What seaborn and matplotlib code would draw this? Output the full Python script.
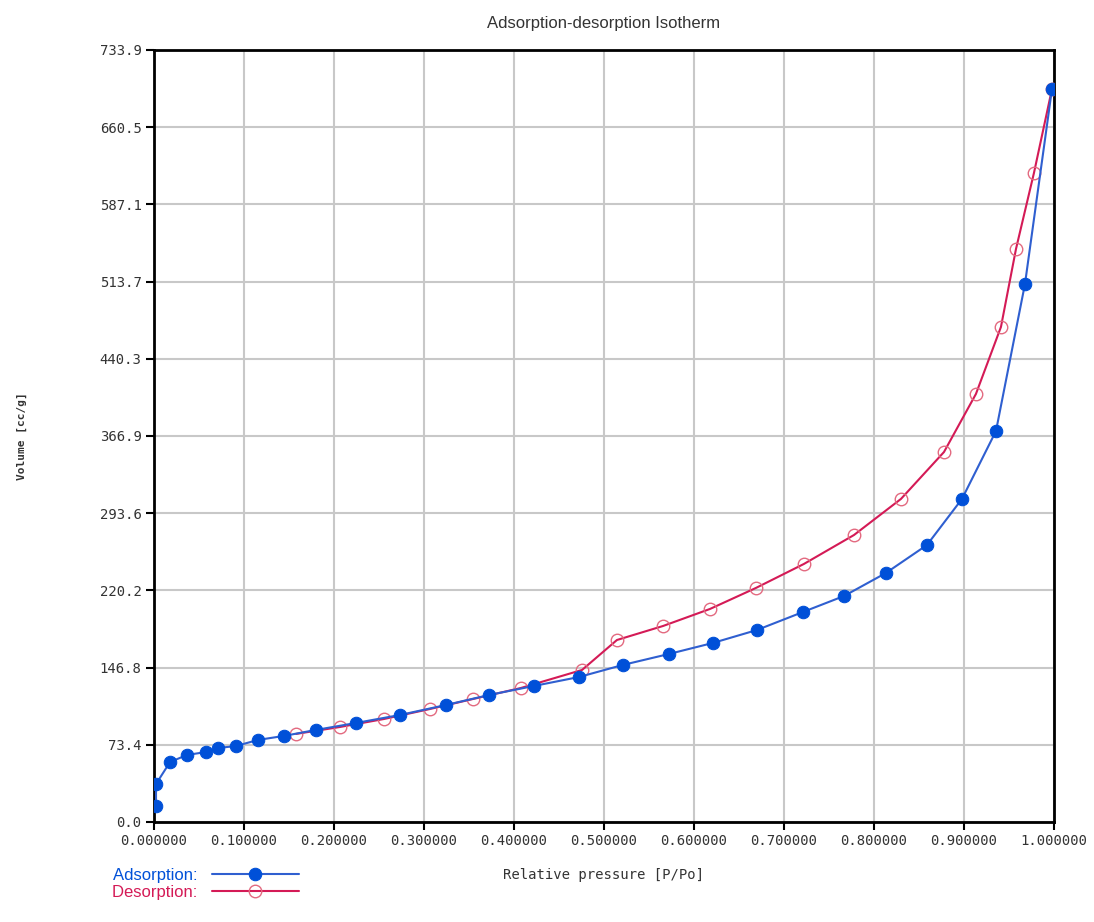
import pandas as pd
import matplotlib.pyplot as plt
import seaborn as sns

# adsorption branch (filled blue)
ads_p = [0.0022, 0.0022, 0.0178, 0.0367, 0.0578, 0.0711, 0.0911, 0.1156, 0.1444,
         0.1800, 0.2244, 0.2733, 0.3244, 0.3722, 0.4222, 0.4722, 0.5211, 0.5722,
         0.6211, 0.6700, 0.7211, 0.7667, 0.8133, 0.8589, 0.8978, 0.9356, 0.9678, 0.9978]
ads_v = [15.2, 36.1, 57.0, 63.7, 66.5, 70.3, 72.2, 78.0, 81.8,
         87.5, 94.1, 101.7, 111.2, 120.7, 129.3, 137.8, 149.3, 159.7,
         170.2, 182.5, 199.6, 214.8, 236.7, 263.3, 307.1, 371.7, 511.5, 696.8]

# desorption branch (open red)
des_p = [0.9978, 0.9778, 0.9578, 0.9411, 0.9133, 0.8778, 0.8300, 0.7778, 0.7222,
         0.6689, 0.6178, 0.5656, 0.5144, 0.4756, 0.4078, 0.3544, 0.3067, 0.2556,
         0.2067, 0.1578]
des_v = [696.8, 617.1, 544.7, 470.6, 406.9, 351.7, 307.1, 272.8, 245.3,
         222.5, 202.5, 186.3, 173.0, 144.5, 127.4, 116.9, 107.4, 97.9,
         90.3, 83.7]

y_ticks = [0.0, 73.39, 146.78, 220.17, 293.56, 366.95, 440.34, 513.73, 587.12, 660.51, 733.9]
y_labels = ['0.0', '73.4', '146.8', '220.2', '293.6', '366.9', '440.3', '513.7', '587.1', '660.5', '733.9']
x_ticks = [i / 10 for i in range(11)]
x_labels = ['%.6f' % t for t in x_ticks]

ads = pd.DataFrame({'p': ads_p, 'v': ads_v})
des = pd.DataFrame({'p': des_p, 'v': des_v})

sns.set_theme(style="whitegrid")
mono = ['DejaVu Sans Mono']
narrow = ['Liberation Sans Narrow', 'Liberation Sans', 'DejaVu Sans']

fig = plt.figure(figsize=(10.94, 9.22), dpi=100)
ax = fig.add_axes([0.1408, 0.1085, 0.8226, 0.8373])

blue_line = '#2f5fd0'
blue_mark = '#0050d8'
red_line = '#d41a56'
red_mark = '#e36a80'

sns.lineplot(data=ads, x='p', y='v', sort=False, estimator=None, ax=ax, color=blue_line, lw=1.5,
             marker='o', markersize=9, markerfacecolor=blue_mark, markeredgecolor=blue_mark,
             label='Adsorption: ', zorder=5)
sns.lineplot(data=des, x='p', y='v', sort=False, estimator=None, ax=ax, color=red_line, lw=1.5,
             marker='o', markersize=9, markerfacecolor='none', markeredgecolor=red_mark,
             markeredgewidth=1.0, label='Desorption: ', zorder=4)

ax.set_xlim(0, 1)
ax.set_ylim(0, 733.9)
ax.set_xticks(x_ticks)
ax.set_xticklabels(x_labels, family=mono, fontsize=10, color='#333333')
ax.set_yticks(y_ticks)
ax.set_yticklabels(y_labels, family=mono, fontsize=10, color='#333333')
ax.tick_params(axis='both', which='major', length=6, width=1.5, color='black',
               direction='out', bottom=True, left=True, pad=3)

ax.grid(True, color='#c8c8c8', lw=1.5)
for s in ax.spines.values():
    s.set_visible(True)
    s.set_color('black')
    s.set_linewidth(2)

ax.set_xlabel('Relative pressure [P/Po]', family=mono, fontsize=10, color='#333333', labelpad=14)
ax.set_ylabel('Volume [cc/g]', family=mono, fontsize=8, color='#333333', weight='bold', labelpad=52)
ax.set_title('Adsorption-desorption Isotherm', family=narrow, fontsize=12, color='#333333', pad=16)

leg = ax.legend(loc='upper left', bbox_to_anchor=(0.095, 0.068), bbox_transform=fig.transFigure,
                frameon=False, markerfirst=False, handlelength=5.2, handletextpad=0.6,
                labelspacing=0.15, borderpad=0, prop={'family': narrow, 'size': 12})
for txt, c in zip(leg.get_texts(), [blue_mark, red_line]):
    txt.set_color(c)

plt.savefig('out.png', dpi=100)
